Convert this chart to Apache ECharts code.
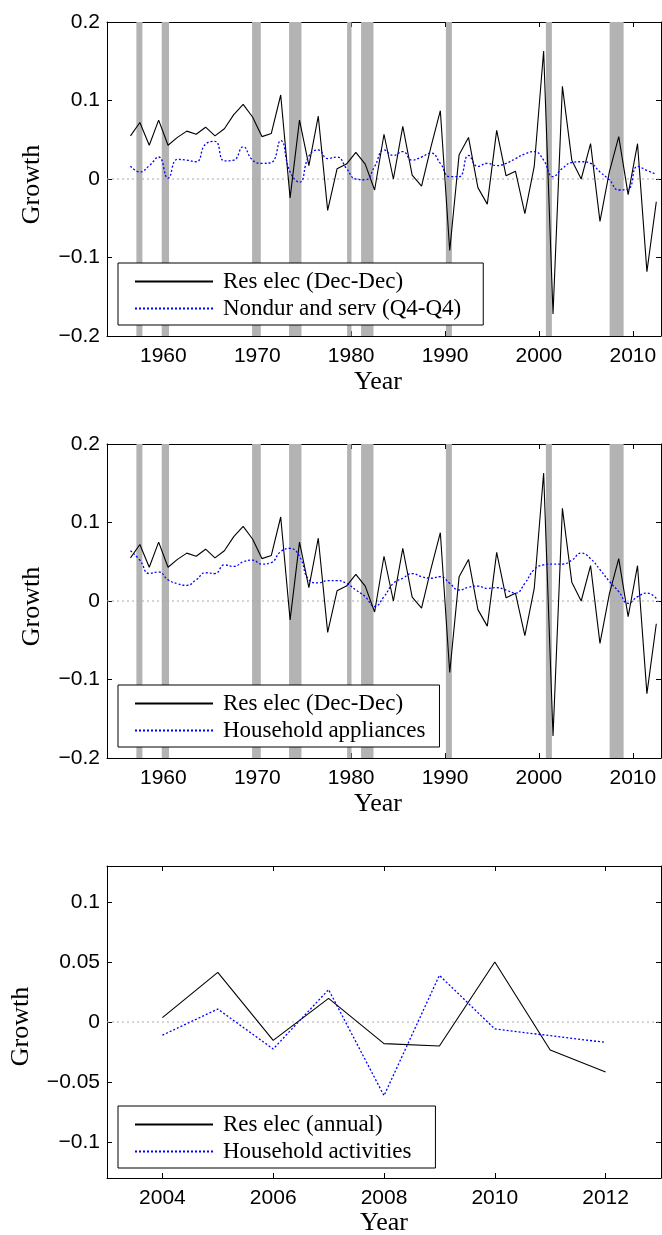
<!DOCTYPE html>
<html>
<head>
<meta charset="utf-8">
<script src="https://cdn.jsdelivr.net/npm/echarts@6.0.0/dist/echarts.min.js"></script>
<style>
html,body{margin:0;padding:0;background:#fff;}
#chart{width:662px;height:1235px;}
</style>
</head>
<body>
<div id="chart"></div>
<script>
// ---------------- data ----------------
// annual observations, 1956.5 ... 2012.5 on the year axis
const firstObs = 1956.5;
const resElecDecDec = [0.055, 0.072, 0.043, 0.075, 0.043, 0.053, 0.061, 0.057, 0.066, 0.055,
  0.064, 0.082, 0.095, 0.079, 0.054, 0.058, 0.107, -0.024, 0.075, 0.017,
  0.080, -0.040, 0.013, 0.019, 0.034, 0.019, -0.014, 0.057, 0.000, 0.067,
  0.005, -0.009, 0.041, 0.087, -0.091, 0.031, 0.053, -0.011, -0.032, 0.062,
  0.004, 0.010, -0.044, 0.016, 0.163, -0.172, 0.118, 0.024, 0.000, 0.045,
  -0.054, 0.009, 0.054, -0.020, 0.045, -0.118, -0.029];
const nondurServ = [0.0165, 0.009, 0.017, 0.028, 0.001, 0.025, 0.024, 0.022, 0.0445, 0.048,
  0.023, 0.024, 0.041, 0.024, 0.020, 0.021, 0.049, 0.009, -0.004, 0.029,
  0.037, 0.026, 0.028, 0.0136, 0.000, -0.001, 0.016, 0.037, 0.030, 0.035,
  0.024, 0.028, 0.033, 0.020, 0.003, 0.003, 0.030, 0.016, 0.020, 0.017,
  0.020, 0.026, 0.032, 0.035, 0.024, 0.003, 0.0136, 0.021, 0.022, 0.020,
  0.009, -0.001, -0.014, -0.013, 0.016, 0.011, 0.006];
const householdAppliances = [0.064, 0.052, 0.035, 0.037, 0.027, 0.022, 0.020, 0.027, 0.036, 0.035,
  0.046, 0.044, 0.050, 0.052, 0.047, 0.049, 0.063, 0.067, 0.057, 0.027,
  0.023, 0.026, 0.026, 0.0225, 0.014, 0.0055, -0.007, 0.0055, 0.0225, 0.029,
  0.035, 0.031, 0.029, 0.031, 0.0225, 0.014, 0.0175, 0.019, 0.016, 0.017,
  0.014, 0.010, 0.0225, 0.040, 0.046, 0.047, 0.047, 0.052, 0.061, 0.054,
  0.040, 0.025, 0.012, -0.003, 0.0055, 0.010, 0.0034];
const recessions = [[1957.13, 1957.77], [1959.83, 1960.61], [1969.45, 1970.38], [1973.39, 1974.71],
  [1979.57, 1980.04], [1981.06, 1982.38], [1990.09, 1990.73], [2000.74, 2001.38], [2007.53, 2009.02]];

const years3 = [2004, 2005, 2006, 2007, 2008, 2009, 2010, 2011, 2012];
const resElecAnnual = [0.0036, 0.0414, -0.0153, 0.0197, -0.018, -0.020, 0.050, -0.0233, -0.0417];
const householdActivities = [-0.011, 0.0108, -0.0225, 0.027, -0.0614, 0.0389, -0.0058, -0.0114, -0.017];

const xTicksLong = [1960, 1970, 1980, 1990, 2000, 2010];
const yTicksLong = [-0.2, -0.1, 0, 0.1, 0.2];
const xTicksShort = [2004, 2006, 2008, 2010, 2012];
const yTicksShort = [-0.1, -0.05, 0, 0.05, 0.1];

const names = {
  res: 'Res elec (Dec-Dec)', nondur: 'Nondur and serv (Q4-Q4)',
  appl: 'Household appliances', resA: 'Res elec (annual)', act: 'Household activities'
};

// ---------------- build ----------------
const yearsLong = resElecDecDec.map((_, i) => firstObs + i);
const zip = (xs, ys) => xs.map((x, i) => [x, ys[i]]);

const SANS = '"Liberation Sans", Arial, Helvetica, sans-serif';
const SERIF = '"Liberation Serif", "Times New Roman", serif';
const fmtY = v => {
  if (Math.abs(v) < 1e-9) return '0';
  const s = String(+Math.abs(v).toFixed(3));
  return v < 0 ? '\u2212' + s : s;
};
const line = {show: true, onZero: false, lineStyle: {color: '#000', width: 1}};
const tick = vals => ({show: true, inside: true, length: 5, customValues: vals, lineStyle: {color: '#000', width: 1}});

function xPair(g, min, max, ticks, gap, pad) {
  return [
    {type: 'value', gridIndex: g, min, max, position: 'bottom', axisLine: line, axisTick: tick(ticks),
     axisLabel: {customValues: ticks, margin: 10, color: '#000', fontFamily: SANS, fontSize: 21, formatter: v => String(v)},
     splitLine: {show: false}, name: 'Year', nameLocation: 'middle', nameGap: gap,
     nameTextStyle: {fontFamily: SERIF, fontSize: 26, color: '#000', padding: pad}},
    {type: 'value', gridIndex: g, min, max, position: 'top', axisLine: line, axisTick: tick(ticks),
     axisLabel: {show: false}, splitLine: {show: false}}
  ];
}
function yPair(g, min, max, ticks, gap, pad) {
  return [
    {type: 'value', gridIndex: g, min, max, position: 'left', axisLine: line, axisTick: tick(ticks),
     axisLabel: {customValues: ticks, margin: 7, color: '#000', fontFamily: SANS, fontSize: 21, formatter: fmtY},
     splitLine: {show: false}, name: 'Growth', nameLocation: 'middle', nameGap: gap,
     nameTextStyle: {fontFamily: SERIF, fontSize: 26, color: '#000', padding: pad}},
    {type: 'value', gridIndex: g, min, max, position: 'right', axisLine: line, axisTick: tick(ticks),
     axisLabel: {show: false}, splitLine: {show: false}}
  ];
}
function zeroLine(g, min, max, withBars) {
  const s = {type: 'line', xAxisIndex: g * 2, yAxisIndex: g * 2, data: [[min, 0], [max, 0]],
    symbol: 'none', silent: true, z: 1,
    lineStyle: {color: '#a8a8a8', width: 1, type: [2, 3]}};
  const out = [s];
  if (withBars) {
    out.unshift({type: 'line', xAxisIndex: g * 2, yAxisIndex: g * 2, data: [[min, 0], [max, 0]],
      symbol: 'none', silent: true, z: 0, lineStyle: {opacity: 0},
      markArea: {silent: true, itemStyle: {color: '#b3b3b3', opacity: 1},
        data: recessions.map(r => [{xAxis: r[0]}, {xAxis: r[1]}])}});
  }
  return out;
}
const blackLine = (g, name, data) => ({type: 'line', name, xAxisIndex: g * 2, yAxisIndex: g * 2, data,
  symbol: 'none', z: 3, itemStyle: {color: '#000'}, lineStyle: {color: '#000', width: 1.1}});
const blueLine = (g, name, data, smooth) => ({type: 'line', name, xAxisIndex: g * 2, yAxisIndex: g * 2, data,
  symbol: 'none', z: 3, smooth, itemStyle: {color: '#0000ff'}, lineStyle: {color: '#0000ff', width: 1.3, type: [2, 2]}});
const legend = (top, data, padRight) => ({orient: 'vertical', left: 118, top, data,
  itemWidth: 78, itemHeight: 14, itemGap: 4,
  itemStyle: {color: 'rgba(0,0,0,0)', borderColor: 'rgba(0,0,0,0)', borderWidth: 0},
  padding: [7, padRight, 5, 16], backgroundColor: '#fff', borderColor: '#000', borderWidth: 1, selectedMode: false,
  textStyle: {fontFamily: SERIF, fontSize: 23, color: '#000', lineHeight: 23, padding: [0, 0, 0, 5]}});

const option = {
  animation: false,
  backgroundColor: '#fff',
  grid: [
    {left: 107, top: 22, width: 554, height: 314, outerBoundsMode: 'none'},
    {left: 107, top: 444, width: 554, height: 314, outerBoundsMode: 'none'},
    {left: 107, top: 866, width: 554, height: 312, outerBoundsMode: 'none'}
  ],
  xAxis: [
    ...xPair(0, 1954, 2013, xTicksLong, 33, [0, 12, 0, 0]),
    ...xPair(1, 1954, 2013, xTicksLong, 33, [0, 12, 0, 0]),
    ...xPair(2, 2003, 2013, xTicksShort, 30, [0, 0, 0, 0])
  ],
  yAxis: [
    ...yPair(0, -0.2, 0.2, yTicksLong, 62, [0, 11, 0, 0]),
    ...yPair(1, -0.2, 0.2, yTicksLong, 62, [0, 11, 0, 0]),
    ...yPair(2, -0.13, 0.13, yTicksShort, 73, [0, 9, 0, 0])
  ],
  legend: [
    legend(263, [names.res, names.nondur], 22),
    legend(685, [names.res, names.appl], 14),
    legend(1106, [names.resA, names.act], 24)
  ],
  series: [
    ...zeroLine(0, 1954, 2013, true),
    blackLine(0, names.res, zip(yearsLong, resElecDecDec)),
    blueLine(0, names.nondur, zip(yearsLong, nondurServ), 0.5),
    ...zeroLine(1, 1954, 2013, true),
    blackLine(1, names.res, zip(yearsLong, resElecDecDec)),
    blueLine(1, names.appl, zip(yearsLong, householdAppliances), 0.5),
    ...zeroLine(2, 2003, 2013, false),
    blackLine(2, names.resA, zip(years3, resElecAnnual)),
    blueLine(2, names.act, zip(years3, householdActivities), false)
  ]
};
const chart = echarts.init(document.getElementById('chart'), null, {renderer: 'canvas'});
chart.setOption(option);
</script>
</body>
</html>
